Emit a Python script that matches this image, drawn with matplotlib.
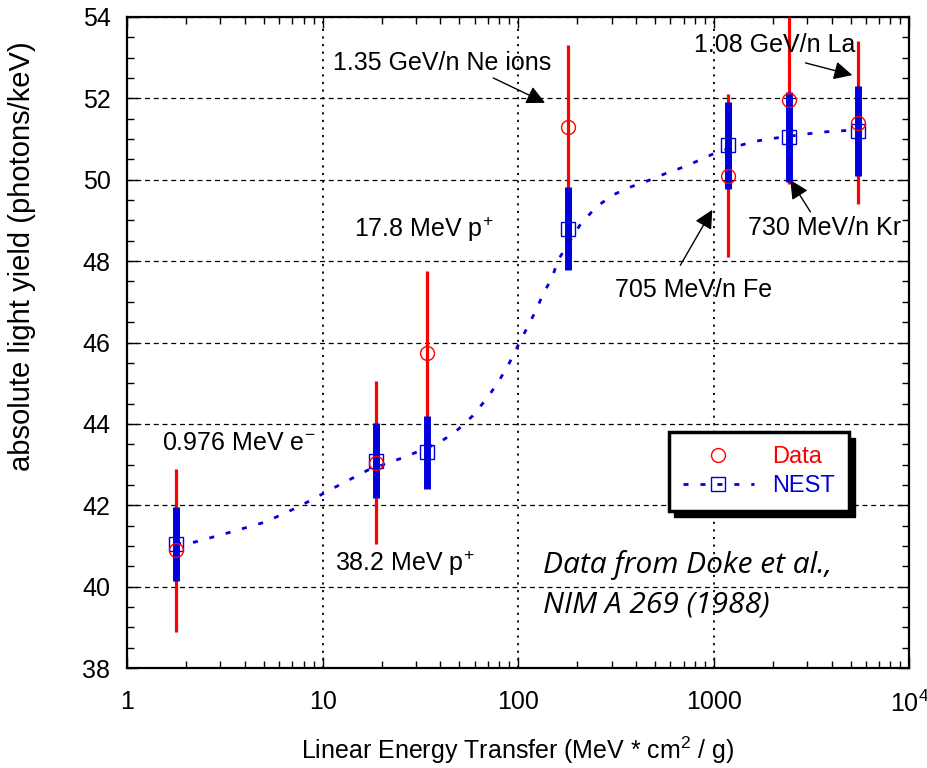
import matplotlib
matplotlib.use("Agg")
import matplotlib.pyplot as plt
from matplotlib.lines import Line2D
from matplotlib.patches import Rectangle
from matplotlib.ticker import FixedLocator, FixedFormatter, LogLocator, MultipleLocator

plt.rcParams['font.family'] = ['Liberation Sans', 'DejaVu Sans']
plt.rcParams['mathtext.fontset'] = 'custom'
plt.rcParams['mathtext.rm'] = 'Liberation Sans'
plt.rcParams['mathtext.it'] = 'Liberation Sans:italic'

# measured points (LET, light yield)
let_x = [1.78, 18.8, 34.3, 180, 1186, 2430, 5480]
data_y = [40.9, 43.05, 45.75, 51.3, 50.1, 51.95, 51.4]
data_err = [2.0, 2.0, 2.0, 2.0, 2.0, 2.05, 2.0]
nest_y = [41.05, 43.1, 43.3, 48.8, 50.85, 51.05, 51.2]
nest_err = [0.9, 0.93, 0.9, 1.03, 1.07, 1.1, 1.1]

# NEST curve (dotted)
curve_x = [1.78, 2.23, 3.37, 5.08, 7.5, 11.3, 17.1, 26.4, 39, 47.6, 58.2, 69.4, 79, 89, 100,
           122, 134, 149, 160, 207, 250, 306, 374, 457, 558, 698, 853, 1042, 1574, 1901,
           2938, 3589, 4385, 5480]
curve_y = [41.05, 41.1, 41.34, 41.59, 41.96, 42.42, 42.87, 43.19, 43.53, 43.8, 44.19, 44.64,
           45.03, 45.45, 45.94, 46.75, 47.19, 47.6, 48.03, 48.89, 49.33, 49.63, 49.82, 49.97,
           50.14, 50.31, 50.49, 50.68, 50.93, 51.0, 51.12, 51.17, 51.2, 51.22]

x_ticks = [1, 10, 100, 1000, 10000]
x_ticklabels = ['1', '10', '100', '1000', '10$^4$']
y_ticks = [38, 40, 42, 44, 46, 48, 50, 52, 54]

fig = plt.figure(figsize=(9.28, 7.68), dpi=100)
ax = fig.add_axes([0.137, 0.130, 0.843, 0.848])

ax.set_xscale('log')
ax.set_xlim(1, 1e4)
ax.set_ylim(38, 54)

# error bars
ax.vlines(let_x, [y - e for y, e in zip(data_y, data_err)],
          [y + e for y, e in zip(data_y, data_err)], color='#ff0000', lw=2.3, zorder=3)
ax.vlines(let_x, [y - e for y, e in zip(nest_y, nest_err)],
          [y + e for y, e in zip(nest_y, nest_err)], color='#0000dd', lw=5, zorder=4)

dot_style = (0, (1.8, 4.3))
ax.plot(curve_x, curve_y, color='#0000dd', lw=2, ls=dot_style, zorder=5)
ax.plot(let_x, nest_y, ls='none', marker='s', ms=10, mfc='none', mec='#0000dd',
        mew=1.0, zorder=6)
ax.plot(let_x, data_y, ls='none', marker='o', ms=10, mfc='none', mec='#ff0000',
        mew=1.0, zorder=7)

# grid
ax.yaxis.grid(True, which='major', color='k', ls=(0, (4, 3)), lw=0.9)
ax.xaxis.grid(True, which='major', color='k', ls=(0, (1.2, 3)), lw=1.3)

ax.xaxis.set_major_locator(FixedLocator(x_ticks))
ax.xaxis.set_major_formatter(FixedFormatter(x_ticklabels))
ax.xaxis.set_minor_locator(LogLocator(base=10, subs=range(2, 10)))
ax.set_yticks(y_ticks)
ax.yaxis.set_minor_locator(MultipleLocator(0.5))

ax.tick_params(which='both', direction='in', top=True, right=True, labelsize=18, width=1)
ax.tick_params(which='major', length=8)
ax.tick_params(which='minor', length=5, labelbottom=False)
ax.tick_params(axis='x', pad=16)
ax.tick_params(axis='y', pad=12)
for s in ax.spines.values():
    s.set_linewidth(1.6)

ax.set_ylabel('absolute light yield (photons/keV)', fontsize=21)
ax.yaxis.set_label_coords(-0.117, 0.633)
ax.set_xlabel('Linear Energy Transfer (MeV * cm$^2$ / g)', fontsize=18, labelpad=13)

# annotations
arrow = dict(arrowstyle='-|>', color='k', lw=1, mutation_scale=28,
             shrinkA=0, shrinkB=0)
fs = 18
ax.text(40.8, 52.87, '1.35 GeV/n Ne ions', fontsize=fs, ha='center', va='center')
ax.annotate('', xy=(137, 51.89), xytext=(74.5, 52.5), arrowprops=arrow)
ax.text(2039, 53.31, '1.08 GeV/n La', fontsize=fs, ha='center', va='center')
ax.annotate('', xy=(5105, 52.57), xytext=(2940, 52.87), arrowprops=arrow)
ax.text(32.7, 48.77, '17.8 MeV p$^{+}$', fontsize=fs, ha='center', va='center')
ax.text(785, 47.29, '705 MeV/n Fe', fontsize=fs, ha='center', va='center')
ax.annotate('', xy=(982, 49.26), xytext=(674, 47.9), arrowprops=arrow)
ax.text(3675, 48.81, '730 MeV/n Kr', fontsize=fs, ha='center', va='center')
ax.annotate('', xy=(2461, 49.99), xytext=(3118, 49.21), arrowprops=arrow)
ax.text(3.74, 43.53, '0.976 MeV e$^{-}$', fontsize=fs, ha='center', va='center')
ax.text(26.4, 40.58, '38.2 MeV p$^{+}$', fontsize=fs, ha='center', va='center')
ax.text(134, 40.53, 'Data from Doke et al.,', fontsize=21.5, ha='left', va='center',
        family='Open Sans', style='italic')
ax.text(134, 39.55, 'NIM A 269 (1988)', fontsize=21.5, ha='left', va='center',
        family='Open Sans', style='italic')

# legend
handles = [
    Line2D([], [], ls='none', marker='o', ms=10, mfc='none', mec='#ff0000', mew=1.0),
    Line2D([], [], color='#0000dd', lw=2, ls=dot_style, marker='s', ms=10, mfc='none',
           mec='#0000dd', mew=1.0),
]
leg = ax.legend(handles, ['Data', 'NEST'], loc='upper left', bbox_to_anchor=(0.677, 0.381),
                fontsize=17, handlelength=3.0, frameon=True, fancybox=False,
                borderpad=0.6, labelspacing=0.3, handletextpad=0.8, framealpha=1)
leg.get_frame().set_edgecolor('k')
leg.get_frame().set_facecolor('white')
leg.get_frame().set_linewidth(2.5)
leg.set_zorder(10)
for t, c in zip(leg.get_texts(), ['#ff0000', '#0000dd']):
    t.set_color(c)

fig.canvas.draw()
bb = leg.get_window_extent().transformed(ax.transAxes.inverted())
ax.add_patch(Rectangle((bb.x0 + 0.007, bb.y0 - 0.009), bb.width, bb.height,
                       transform=ax.transAxes, color='k', zorder=9, clip_on=False))

fig.savefig('out.png', dpi=100)
